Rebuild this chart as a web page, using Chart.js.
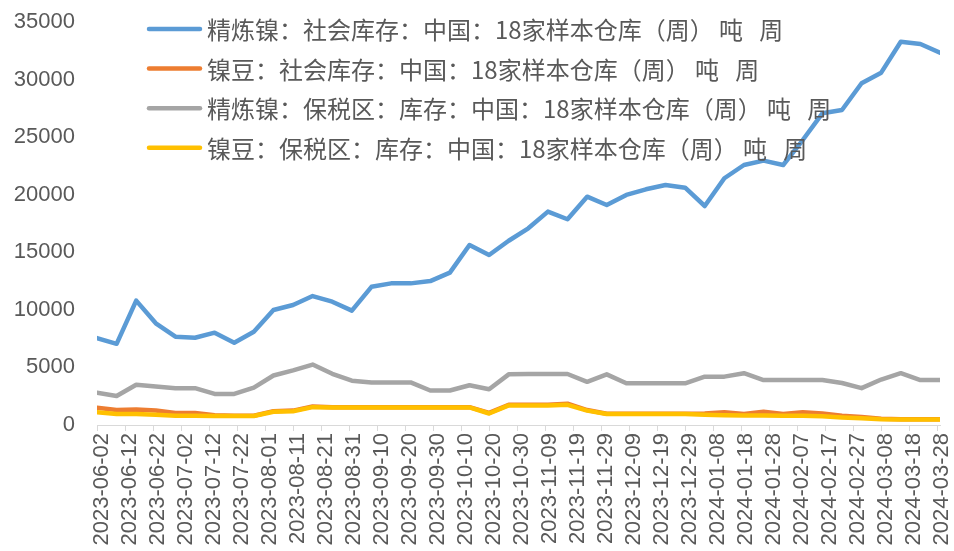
<!DOCTYPE html>
<html>
<head>
<meta charset="utf-8">
<title>镍库存</title>
<script src="https://cdn.jsdelivr.net/npm/chart.js@4.4.0/dist/chart.umd.min.js"></script>
<style>
  html, body { margin: 0; padding: 0; background: #fff; }
  #stockChart { display: block; }
</style>
</head>
<body>
<canvas id="stockChart" width="954" height="551"></canvas>
<script>
// weekly dates of the data
const dates = [
  '2023-06-02', '2023-06-09', '2023-06-16', '2023-06-23', '2023-06-30',
  '2023-07-07', '2023-07-14', '2023-07-21', '2023-07-28', '2023-08-04',
  '2023-08-11', '2023-08-18', '2023-08-25', '2023-09-01', '2023-09-08',
  '2023-09-15', '2023-09-22', '2023-09-29', '2023-10-06', '2023-10-13',
  '2023-10-20', '2023-10-27', '2023-11-03', '2023-11-10', '2023-11-17',
  '2023-11-24', '2023-12-01', '2023-12-08', '2023-12-15', '2023-12-22',
  '2023-12-29', '2024-01-05', '2024-01-12', '2024-01-19', '2024-01-26',
  '2024-02-02', '2024-02-09', '2024-02-16', '2024-02-23', '2024-03-01',
  '2024-03-08', '2024-03-15', '2024-03-22', '2024-03-29'
];

// 精炼镍 社会库存
const refinedSocial = [
  7550, 7050, 10800, 8830, 7670, 7580, 8020, 7150, 8100, 9990,
  10420, 11200, 10710, 9930, 12000, 12300, 12300, 12500, 13230, 15630,
  14760, 16000, 17080, 18530, 17870, 19830, 19110, 19980, 20470, 20840,
  20610, 19020, 21430, 22580, 22960, 22580, 24750, 27070, 27360, 29680,
  30600, 33290, 33090, 32340
];

// 镍豆 社会库存
const beanSocial = [
  1500, 1300, 1350, 1250, 1050, 1050, 850, 800, 800, 1200,
  1250, 1600, 1550, 1550, 1550, 1550, 1550, 1550, 1550, 1550,
  1050, 1750, 1750, 1750, 1850, 1300, 980, 980, 980, 980,
  980, 1000, 1100, 950, 1150, 950, 1100, 1000, 800, 700,
  550, 500, 500, 500
];

// 精炼镍 保税区库存
const refinedBonded = [
  2800, 2520, 3500, 3350, 3200, 3200, 2700, 2700, 3250, 4300,
  4750, 5250, 4450, 3850, 3700, 3700, 3700, 3000, 3000, 3450,
  3100, 4400, 4430, 4430, 4430, 3750, 4400, 3620, 3620, 3620,
  3620, 4200, 4200, 4500, 3900, 3900, 3900, 3900, 3650, 3200,
  3950, 4500, 3900, 3900
];

// 镍豆 保税区库存
const beanBonded = [
  1100, 950, 950, 900, 800, 800, 780, 780, 780, 1150,
  1200, 1550, 1530, 1530, 1530, 1530, 1530, 1530, 1530, 1530,
  1000, 1700, 1700, 1700, 1750, 1250, 950, 950, 950, 950,
  950, 900, 850, 820, 820, 800, 800, 750, 650, 580,
  500, 480, 480, 480
];

const seriesNames = [
  '精炼镍：社会库存：中国：18家样本仓库（周） 吨   周',
  '镍豆：社会库存：中国：18家样本仓库（周） 吨   周',
  '精炼镍：保税区：库存：中国：18家样本仓库（周） 吨   周',
  '镍豆：保税区：库存：中国：18家样本仓库（周） 吨   周'
];
const seriesColors = ['#5B9BD5', '#ED7D31', '#A5A5A5', '#FFC000'];

// axis labels, one every 10 days
const tickLabels = [
  '2023-06-02', '2023-06-12', '2023-06-22', '2023-07-02', '2023-07-12',
  '2023-07-22', '2023-08-01', '2023-08-11', '2023-08-21', '2023-08-31',
  '2023-09-10', '2023-09-20', '2023-09-30', '2023-10-10', '2023-10-20',
  '2023-10-30', '2023-11-09', '2023-11-19', '2023-11-29', '2023-12-09',
  '2023-12-19', '2023-12-29', '2024-01-08', '2024-01-18', '2024-01-28',
  '2024-02-07', '2024-02-17', '2024-02-27', '2024-03-08', '2024-03-18',
  '2024-03-28'
];
const yTicks = [0, 5000, 10000, 15000, 20000, 25000, 30000, 35000];

// days since first date
const dayOf = (s) => (Date.parse(s) - Date.parse(dates[0])) / 86400000;

const toPoints = (values) => dates.map((d, i) => ({ x: dayOf(d), y: values[i] }));

const allSeries = [refinedSocial, beanSocial, refinedBonded, beanBonded];

const datasets = allSeries.map((values, i) => ({
  label: seriesNames[i],
  data: toPoints(values),
  borderColor: seriesColors[i],
  backgroundColor: seriesColors[i],
  borderWidth: 4.5,
  pointRadius: 0,
  tension: 0,
  borderCapStyle: 'round',
  borderJoinStyle: 'round',
  order: allSeries.length - i  // later series on top, like Excel
}));

// legend inside the plot, top-left
const insideLegend = {
  id: 'insideLegend',
  afterDatasetsDraw(chart) {
    const ctx = chart.ctx;
    ctx.save();
    ctx.font = '24px "Noto Sans CJK SC", sans-serif';
    ctx.textBaseline = 'middle';
    ctx.textAlign = 'left';
    seriesNames.forEach((name, i) => {
      const y = 29 + i * 39.6;
      ctx.strokeStyle = seriesColors[i];
      ctx.lineWidth = 4.5;
      ctx.lineCap = 'round';
      ctx.beginPath();
      ctx.moveTo(149, y);
      ctx.lineTo(200, y);
      ctx.stroke();
      ctx.fillStyle = '#595959';
      ctx.fillText(name, 207, y + 1);
    });
    ctx.restore();
  }
};

const ctx = document.getElementById('stockChart').getContext('2d');

const stockChart = new Chart(ctx, {
  type: 'line',
  data: { datasets: datasets },
  plugins: [insideLegend],
  options: {
    responsive: false,
    animation: false,
    devicePixelRatio: 1,
    layout: { padding: { top: 22, right: 14, left: 0, bottom: 0 } },
    plugins: {
      legend: { display: false },
      tooltip: { enabled: false }
    },
    scales: {
      x: {
        type: 'linear',
        min: 0,
        max: dayOf('2024-03-29'),
        afterBuildTicks: (scale) => {
          scale.ticks = tickLabels.map((t) => ({ value: dayOf(t) }));
        },
        afterFit: (scale) => {
          scale.height = 126;
          scale.paddingLeft = 0;
          scale.paddingRight = 0;
        },
        grid: {
          display: true,
          drawOnChartArea: false,
          drawTicks: true,
          tickLength: 6,
          color: '#D9D9D9'
        },
        border: { display: true, color: '#D9D9D9', width: 1 },
        ticks: {
          autoSkip: false,
          maxRotation: 90,
          minRotation: 90,
          padding: 2,
          labelOffset: 5,
          color: '#595959',
          font: { family: '"Liberation Sans", Arial, sans-serif', size: 22 },
          callback: (value) => tickLabels.find((t) => dayOf(t) === value) || ''
        }
      },
      y: {
        min: 0,
        max: 35000,
        afterBuildTicks: (scale) => {
          scale.ticks = yTicks.map((v) => ({ value: v }));
        },
        afterFit: (scale) => {
          scale.width = 97;
          scale.paddingTop = 0;
          scale.paddingBottom = 0;
        },
        grid: { display: false, drawTicks: false },
        border: { display: false },
        ticks: {
          padding: 22,
          color: '#595959',
          font: { family: '"Liberation Sans", Arial, sans-serif', size: 22 },
          callback: (value) => String(value)
        }
      }
    }
  }
});
</script>
</body>
</html>
